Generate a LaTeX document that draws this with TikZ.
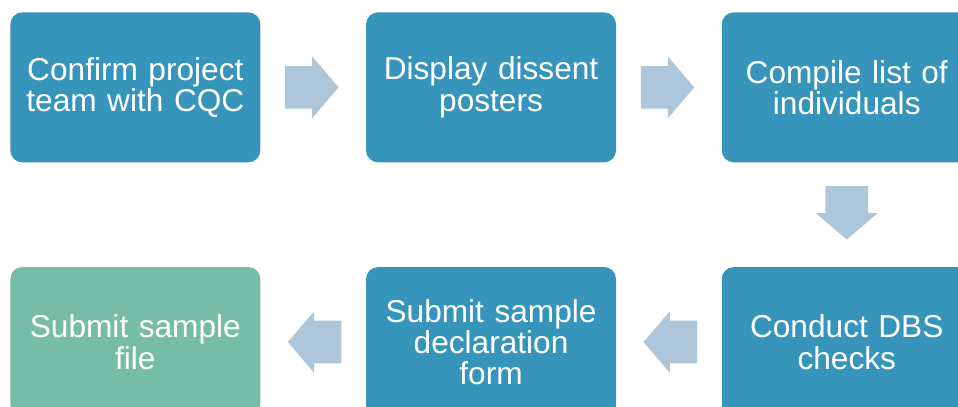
\documentclass[tikz,border=0pt]{standalone}
\usepackage{fontspec}
\setmainfont{Liberation Sans}
\usetikzlibrary{shapes.arrows, positioning, calc}

\definecolor{stepblue}{RGB}{55,148,186}
\definecolor{stepgreen}{RGB}{118,188,166}
\definecolor{arrowgrey}{RGB}{174,198,218}

\begin{document}
\begin{tikzpicture}[node distance=2.08cm and 2.1cm]
  \tikzstyle{block} = [rectangle, rounded corners=0.24cm, fill=stepblue, text=white, align=center, minimum width=5cm, minimum height=3cm, text width=4.8cm, inner sep=0pt, font=\fontsize{18}{17.8}\selectfont]
  \tikzstyle{barrow} = [single arrow, fill=arrowgrey, anchor=tail, minimum height=1.07cm, inner xsep=0pt, inner ysep=0.42cm, single arrow head extend=0.19cm, single arrow tip angle=99]

  \useasboundingbox (0,0) rectangle (19.16,-8.14);

  \node[block, anchor=north west] (team) at (0.2,-0.24) {Confirm project\\team with CQC};
  \node[block, right=of team] (posters) {Display dissent\\posters};
  \node[block, right=of posters] (list) {Compile list of\\individuals};
  \node[block, below=of list] (dbs) {Conduct DBS\\checks};
  \node[block, left=of dbs] (form) {Submit sample\\declaration\\form};
  \node[block, left=of form, fill=stepgreen] (file) {Submit sample\\file};

  % block arrows between the steps
  \node[barrow] (a1) at ($(team.east)+(0.48,0)$) {};
  \node[barrow] (a2) at ($(posters.east)+(0.48,0)$) {};
  \node[barrow, rotate=-90] (a3) at ($(list.south)+(0,-0.46)$) {};
  \node[barrow, rotate=180] (a4) at ($(dbs.west)+(-0.48,0)$) {};
  \node[barrow, rotate=180] (a5) at ($(form.west)+(-0.48,0)$) {};
\end{tikzpicture}
\end{document}
